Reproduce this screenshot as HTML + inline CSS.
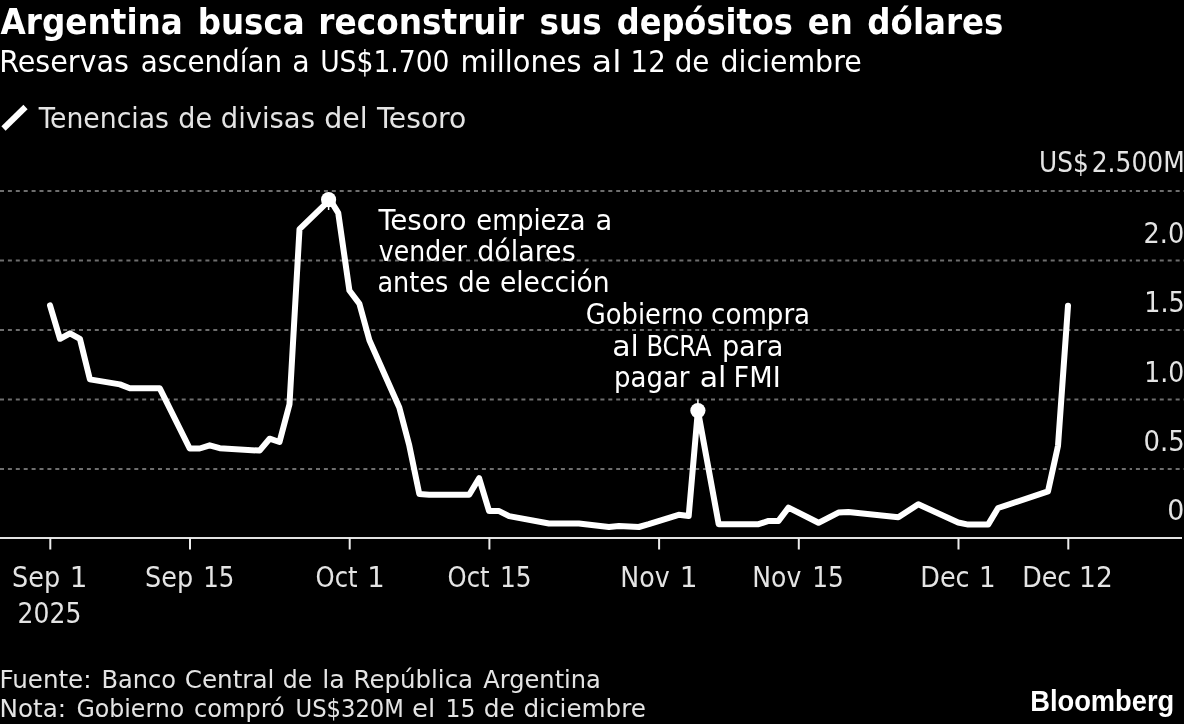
<!DOCTYPE html>
<html lang="es"><head><meta charset="utf-8"><title>Argentina busca reconstruir sus depósitos en dólares</title>
<style>
html,body{margin:0;padding:0;background:#000;}
body{width:1184px;height:724px;overflow:hidden;font-family:'DejaVu Sans','Liberation Sans',sans-serif;}
svg{display:block;}
text{white-space:pre;}
.c{font-family:'DejaVu Sans Condensed','DejaVu Sans','Liberation Sans',sans-serif;font-weight:normal;font-stretch:condensed;}
.b{font-family:'DejaVu Sans','Liberation Sans',sans-serif;font-weight:bold;}
.cb{font-family:'DejaVu Sans Condensed','DejaVu Sans','Liberation Sans',sans-serif;font-weight:bold;}
.lb{font-family:'Liberation Sans',sans-serif;font-weight:bold;}
.lab{fill:#e4e4e4;}
.w{fill:#fff;}
</style></head><body>
<svg width="1184" height="724" viewBox="0 0 1184 724">
<rect width="1184" height="724" fill="#000"/>
<line x1="0" x2="1132" y1="191.0" y2="191.0" stroke="#6e6e6e" stroke-width="2" stroke-dasharray="4 3.9"/>
<line x1="1135.9" x2="1184" y1="191.0" y2="191.0" stroke="#6e6e6e" stroke-width="1.8" stroke-dasharray="4 3.95"/>
<line x1="0" x2="1132" y1="260.5" y2="260.5" stroke="#6e6e6e" stroke-width="2" stroke-dasharray="4 3.9"/>
<line x1="1135.9" x2="1184" y1="260.5" y2="260.5" stroke="#6e6e6e" stroke-width="1.8" stroke-dasharray="4 3.95"/>
<line x1="0" x2="1132" y1="330.0" y2="330.0" stroke="#6e6e6e" stroke-width="2" stroke-dasharray="4 3.9"/>
<line x1="1135.9" x2="1184" y1="330.0" y2="330.0" stroke="#6e6e6e" stroke-width="1.8" stroke-dasharray="4 3.95"/>
<line x1="0" x2="1132" y1="399.5" y2="399.5" stroke="#6e6e6e" stroke-width="2" stroke-dasharray="4 3.9"/>
<line x1="1135.9" x2="1184" y1="399.5" y2="399.5" stroke="#6e6e6e" stroke-width="1.8" stroke-dasharray="4 3.95"/>
<line x1="0" x2="1132" y1="469.0" y2="469.0" stroke="#6e6e6e" stroke-width="2" stroke-dasharray="4 3.9"/>
<line x1="1135.9" x2="1184" y1="469.0" y2="469.0" stroke="#6e6e6e" stroke-width="1.8" stroke-dasharray="4 3.95"/>
<line x1="0" x2="1182" y1="537.9" y2="537.9" stroke="#e2e2e2" stroke-width="2"/>
<line x1="50.3" x2="50.3" y1="538" y2="549.5" stroke="#ececec" stroke-width="2"/>
<line x1="190.0" x2="190.0" y1="538" y2="549.5" stroke="#ececec" stroke-width="2"/>
<line x1="349.7" x2="349.7" y1="538" y2="549.5" stroke="#ececec" stroke-width="2"/>
<line x1="489.4" x2="489.4" y1="538" y2="549.5" stroke="#ececec" stroke-width="2"/>
<line x1="659.1" x2="659.1" y1="538" y2="549.5" stroke="#ececec" stroke-width="2"/>
<line x1="798.8" x2="798.8" y1="538" y2="549.5" stroke="#ececec" stroke-width="2"/>
<line x1="958.5" x2="958.5" y1="538" y2="549.5" stroke="#ececec" stroke-width="2"/>
<line x1="1068.3" x2="1068.3" y1="538" y2="549.5" stroke="#ececec" stroke-width="2"/>
<g><text class="w b" font-size="35.3" transform="translate(0.58,33.70) scale(0.9259,1)">Argentina </text><text class="w b" font-size="35.3" transform="translate(197.69,33.70) scale(0.9213,1)">busca </text><text class="w b" font-size="35.3" transform="translate(318.37,33.70) scale(0.9281,1)">reconstruir </text><text class="w b" font-size="35.3" transform="translate(539.52,33.70) scale(0.9271,1)">sus </text><text class="w b" font-size="35.3" transform="translate(616.68,33.70) scale(0.9093,1)">depósitos </text><text class="w b" font-size="35.3" transform="translate(807.82,33.70) scale(0.9181,1)">en </text><text class="w b" font-size="35.3" transform="translate(867.36,33.70) scale(0.9203,1)">dólares</text></g>
<g><text class="w c" font-size="30.1" transform="translate(-0.78,72.30) scale(1.0577,1)">Reservas </text><text class="w c" font-size="30.1" transform="translate(140.63,72.30) scale(1.0259,1)">ascendían </text><text class="w c" font-size="30.1" transform="translate(292.29,72.30) scale(1.0507,1)">a </text><text class="w c" font-size="30.1" transform="translate(320.13,72.30) scale(0.9827,1)">US$1.700 </text><text class="w c" font-size="30.1" transform="translate(460.60,72.30) scale(1.0664,1)">millones </text><text class="w c" font-size="30.1" transform="translate(591.80,72.30) scale(1.2300,1)">al </text><text class="w c" font-size="30.1" transform="translate(630.61,72.30) scale(1.0182,1)">12 </text><text class="w c" font-size="30.1" transform="translate(674.66,72.30) scale(1.0279,1)">de </text><text class="w c" font-size="30.1" transform="translate(720.42,72.30) scale(1.0502,1)">diciembre</text></g>
<line x1="3.5" y1="128.5" x2="25.5" y2="107" stroke="#fff" stroke-width="6"/>
<g><text class="lab c" font-size="28.4" transform="translate(38.77,127.60) scale(1.0443,1)">Tenencias </text><text class="lab c" font-size="28.4" transform="translate(178.24,127.60) scale(1.0587,1)">de </text><text class="lab c" font-size="28.4" transform="translate(220.83,127.60) scale(1.0714,1)">divisas </text><text class="lab c" font-size="28.4" transform="translate(324.17,127.60) scale(1.1129,1)">del </text><text class="lab c" font-size="28.4" transform="translate(376.97,127.60) scale(1.1035,1)">Tesoro</text></g>
<g><text class="lab c" font-size="28" transform="translate(1039.04,171.70) scale(0.9859,1)">US$ </text><text class="lab c" font-size="28" transform="translate(1091.70,171.70) scale(0.9915,1)">2.500M</text></g>
<g><text class="lab c" font-size="28" transform="translate(1143.56,243.00) scale(1.0147,1)">2.0</text></g>
<g><text class="lab c" font-size="28" transform="translate(1144.22,312.30) scale(1.0107,1)">1.5</text></g>
<g><text class="lab c" font-size="28" transform="translate(1144.26,381.90) scale(0.9965,1)">1.0</text></g>
<g><text class="lab c" font-size="28" transform="translate(1143.53,451.30) scale(1.0290,1)">0.5</text></g>
<g><text class="lab c" font-size="28" transform="translate(1167.27,520.10) scale(1.0667,1)">0</text></g>
<polyline points="50.0,305.4 60.0,338.8 70.0,333.3 79.9,338.8 89.9,379.4 119.9,384.4 129.8,388.3 159.8,388.3 189.7,448.5 199.7,448.5 209.7,445.3 219.7,448.2 259.6,450.6 269.6,438.7 279.5,442.0 289.5,404.2 299.5,229.2 330.0,199.7 338.2,212.8 349.4,290.5 359.4,303.8 369.4,340.2 399.3,407.5 409.3,445.6 419.3,494.0 429.2,494.8 469.2,494.8 479.1,478.2 489.1,511.1 499.1,511.1 509.1,516.1 549.0,523.5 578.9,523.6 608.9,527.0 618.9,525.9 638.8,527.0 648.8,524.2 678.7,514.8 688.7,515.9 697.9,410.6 718.7,524.2 758.6,524.2 768.6,520.9 778.5,520.9 788.5,507.6 818.5,522.8 838.4,512.6 848.4,512.0 898.3,517.3 918.3,504.3 958.2,522.5 968.2,524.6 988.1,524.6 998.1,508.0 1048.0,491.4 1058.0,445.8 1068.0,305.7" fill="none" stroke="#fff" stroke-width="6" stroke-linejoin="round" stroke-linecap="round"/>
<circle cx="328.6" cy="199.7" r="7.6" fill="#fff"/>
<circle cx="697.9" cy="410.6" r="7.6" fill="#fff"/>
<line x1="697.9" x2="697.9" y1="399.5" y2="404" stroke="#fff" stroke-width="1.5"/>
<line x1="328.6" x2="328.6" y1="206" y2="210" stroke="#fff" stroke-width="1.5"/>
<g><text class="w c" font-size="27.5" transform="translate(378.47,229.80) scale(1.1229,1)">Tesoro </text><text class="w c" font-size="27.5" transform="translate(476.34,229.80) scale(1.0378,1)">empieza </text><text class="w c" font-size="27.5" transform="translate(595.41,229.80) scale(1.1043,1)">a</text></g>
<g><text class="w c" font-size="27.5" transform="translate(378.80,260.60) scale(1.0174,1)">vender </text><text class="w c" font-size="27.5" transform="translate(477.27,260.60) scale(1.0867,1)">dólares</text></g>
<g><text class="w c" font-size="27.5" transform="translate(377.42,291.50) scale(1.0318,1)">antes </text><text class="w c" font-size="27.5" transform="translate(458.33,291.50) scale(1.0455,1)">de </text><text class="w c" font-size="27.5" transform="translate(499.89,291.50) scale(1.0741,1)">elección</text></g>
<g><text class="w c" font-size="27.5" transform="translate(585.77,324.00) scale(1.0433,1)">Gobierno </text><text class="w c" font-size="27.5" transform="translate(711.12,324.00) scale(1.0552,1)">compra</text></g>
<g><text class="w c" font-size="27.5" transform="translate(612.16,355.70) scale(1.2123,1)">al </text><text class="w c" font-size="27.5" transform="translate(646.39,355.70) scale(0.9743,1)">BCRA </text><text class="w c" font-size="27.5" transform="translate(721.90,355.70) scale(1.0963,1)">para</text></g>
<g><text class="w c" font-size="27.5" transform="translate(614.00,386.90) scale(1.0509,1)">pagar </text><text class="w c" font-size="27.5" transform="translate(699.66,386.90) scale(1.2123,1)">al </text><text class="w c" font-size="27.5" transform="translate(733.59,386.90) scale(1.0982,1)">FMI</text></g>
<g><text class="lab c" font-size="28" transform="translate(12.06,586.50) scale(1.0112,1)">Sep </text><text class="lab c" font-size="28" transform="translate(69.77,586.50) scale(1.1000,1)">1</text></g>
<g><text class="lab c" font-size="28" transform="translate(145.06,586.50) scale(1.0112,1)">Sep </text><text class="lab c" font-size="28" transform="translate(203.22,586.50) scale(0.9733,1)">15</text></g>
<g><text class="lab c" font-size="28" transform="translate(315.58,586.50) scale(0.9634,1)">Oct </text><text class="lab c" font-size="28" transform="translate(367.30,586.50) scale(1.0909,1)">1</text></g>
<g><text class="lab c" font-size="28" transform="translate(447.58,586.50) scale(0.9634,1)">Oct </text><text class="lab c" font-size="28" transform="translate(499.98,586.50) scale(0.9880,1)">15</text></g>
<g><text class="lab c" font-size="28" transform="translate(620.35,586.50) scale(1.0043,1)">Nov </text><text class="lab c" font-size="28" transform="translate(679.75,586.50) scale(1.1091,1)">1</text></g>
<g><text class="lab c" font-size="28" transform="translate(752.37,586.50) scale(0.9957,1)">Nov </text><text class="lab c" font-size="28" transform="translate(812.28,586.50) scale(0.9880,1)">15</text></g>
<g><text class="lab c" font-size="28" transform="translate(920.34,586.50) scale(1.0101,1)">Dec </text><text class="lab c" font-size="28" transform="translate(979.05,586.50) scale(1.0364,1)">1</text></g>
<g><text class="lab c" font-size="28" transform="translate(1022.15,586.50) scale(1.0056,1)">Dec </text><text class="lab c" font-size="28" transform="translate(1079.12,586.50) scale(1.0480,1)">12</text></g>
<g><text class="lab c" font-size="28" transform="translate(17.60,622.50) scale(0.9946,1)">2025</text></g>
<g><text class="lab c" font-size="25.5" transform="translate(-0.41,687.60) scale(1.0712,1)">Fuente: </text><text class="lab c" font-size="25.5" transform="translate(101.54,687.60) scale(1.0504,1)">Banco </text><text class="lab c" font-size="25.5" transform="translate(184.66,687.60) scale(1.0750,1)">Central </text><text class="lab c" font-size="25.5" transform="translate(282.71,687.60) scale(1.0286,1)">de </text><text class="lab c" font-size="25.5" transform="translate(322.25,687.60) scale(1.1077,1)">la </text><text class="lab c" font-size="25.5" transform="translate(353.60,687.60) scale(1.0670,1)">República </text><text class="lab c" font-size="25.5" transform="translate(483.27,687.60) scale(1.0512,1)">Argentina</text></g>
<g><text class="lab c" font-size="25.5" transform="translate(-0.42,717.10) scale(1.0743,1)">Nota: </text><text class="lab c" font-size="25.5" transform="translate(76.41,717.10) scale(1.0330,1)">Gobierno </text><text class="lab c" font-size="25.5" transform="translate(193.99,717.10) scale(1.0500,1)">compró </text><text class="lab c" font-size="25.5" transform="translate(295.58,717.10) scale(0.9888,1)">US$320M </text><text class="lab c" font-size="25.5" transform="translate(412.08,717.10) scale(1.1328,1)">el </text><text class="lab c" font-size="25.5" transform="translate(445.54,717.10) scale(1.0248,1)">15 </text><text class="lab c" font-size="25.5" transform="translate(483.64,717.10) scale(1.0857,1)">de </text><text class="lab c" font-size="25.5" transform="translate(523.45,717.10) scale(1.0762,1)">diciembre</text></g>
<g><text class="w lb" font-size="29" transform="translate(1030.17,711.40) scale(0.9420,1)">Bloomberg</text></g>
</svg></body></html>
